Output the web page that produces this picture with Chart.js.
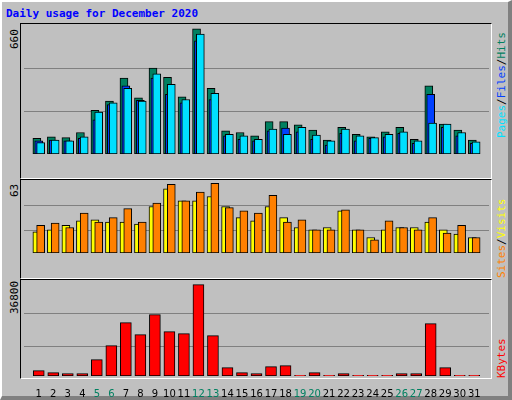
<!DOCTYPE html>
<html>
<head>
<meta charset="utf-8">
<script src="https://cdn.jsdelivr.net/npm/chart.js@4"></script>
<style>
  body { margin: 0; background: #fff; }
  #box { position: absolute; left: 0; top: 0; width: 506px; height: 394px; background: #c0c0c0;
         border-top: 2px solid #fff; border-left: 2px solid #fff; border-right: 4px solid #808080; border-bottom: 4px solid #808080; }
  .frame { position: absolute; left: 20px; width: 470px; border-top: 1px solid #000; border-left: 1px solid #000;
           border-right: 1px solid #fff; border-bottom: 1px solid #fff; }
  canvas { position: absolute; left: 24px; }
  .t { position: absolute; font: 11px "DejaVu Sans Mono", monospace; white-space: nowrap; }
  .rot { transform-origin: 0 0; transform: rotate(-90deg); }
</style>
</head>
<body>
<div id="box"></div>
<div class="frame" style="top:23px;height:154px"></div>
<div class="frame" style="top:179px;height:98px"></div>
<div class="frame" style="top:279px;height:98px"></div>
<div class="t" style="left:6px;top:7px;color:#0000ff;font-weight:bold">Daily usage for December 2020</div>
<div class="t rot" style="left:8px;top:49px">660</div>
<div class="t rot" style="left:8px;top:197px">63</div>
<div class="t rot" style="left:8px;top:314px">36800</div>
<div class="t rot" style="left:495px;top:138px"><span style="color:#00e0ff">Pages</span>/<span style="color:#0040ff">Files</span>/<span style="color:#008060">Hits</span></div>
<div class="t rot" style="left:495px;top:278px"><span style="color:#ff8000">Sites</span>/<span style="color:#ffff00">Visits</span></div>
<div class="t rot" style="left:495px;top:378px;color:#ff0000">KBytes</div>
<canvas id="c1" width="465" height="152" style="top:25px"></canvas>
<canvas id="c2" width="465" height="95" style="top:181px"></canvas>
<canvas id="c3" width="465" height="118" style="top:281px"></canvas>
<script>
const days = Array.from({length: 31}, (_, i) => i + 1);
const weekend = [5, 6, 12, 13, 19, 20, 26, 27];
const hits = [80,88,84,110,223,271,388,288,440,392,292,640,336,119,110,93,166,166,149,123,71,136,101,88,114,136,75,349,153,123,71];
const files = [67,71,67,80,175,253,349,275,388,305,262,579,279,93,75,67,119,132,114,75,45,106,67,80,88,106,54,305,136,93,54];
const pages = [58,71,67,88,214,262,336,271,410,357,279,614,310,101,93,75,127,101,136,97,67,127,93,84,101,114,67,158,153,110,62];
const visits = [19,21,25,29,30,28,28,26,42,58,47,47,51,42,32,29,42,32,23,21,23,38,21,14,21,23,23,28,21,17,14];
const sites = [25,27,23,36,28,32,40,28,45,62,47,55,63,41,38,36,52,28,30,21,21,39,21,12,29,23,21,32,18,25,14];
const kbytes = [2150,1340,940,940,6580,12220,21490,16650,24710,17860,17060,36800,16250,3360,1340,940,3760,4160,300,1340,300,940,300,300,300,940,940,21090,3360,300,300];

// first dataset is drawn on top, so list the front series first
function panel(id, datasets, max, grid, width, showX) {
  new Chart(document.getElementById(id), {
    type: "bar",
    data: { datasets: datasets.map(d => ({
      data: d.data.map((v, i) => ({ x: days[i] + d.shift, y: v })),
      backgroundColor: d.color, borderColor: "#000", borderWidth: 1,
      borderSkipped: false, barThickness: width, grouped: false
    })) },
    options: {
      responsive: false, animation: false, devicePixelRatio: 1,
      layout: { padding: 0 },
      plugins: { legend: { display: false }, tooltip: { enabled: false } },
      scales: {
        x: {
          type: "linear", display: showX, min: 0.5, max: 31.5,
          grid: { display: false }, border: { display: false },
          afterBuildTicks: s => { s.ticks = days.map(d => ({ value: d })); },
          ticks: {
            padding: 4, maxRotation: 0, autoSkip: false,
            font: { family: "DejaVu Sans", size: 10 },
            color: c => weekend.includes(c.tick.value) ? "#008060" : "#000"
          },
          afterFit: s => { s.height = 23; }
        },
        y: {
          min: 0, max: max,
          ticks: { display: false },
          border: { display: false },
          grid: { color: "#808080", drawTicks: false, lineWidth: 1 },
          afterBuildTicks: s => { s.ticks = grid.map(v => ({ value: v })); },
          afterFit: s => { s.width = 0; }
        }
      }
    }
  });
}

panel("c1", [
  { data: pages, color: "#00e0ff", shift: 0.13 },
  { data: files, color: "#0040ff", shift: 0 },
  { data: hits, color: "#008060", shift: -0.13 }
], 660, [220, 440], 8, false);

panel("c2", [
  { data: sites, color: "#ff8000", shift: 0.13 },
  { data: visits, color: "#ffff00", shift: -0.13 }
], 65, [65 * 0.31, 65 * 0.66], 8, false);

panel("c3", [
  { data: kbytes, color: "#ff0000", shift: 0 }
], 38250, [38250 * 0.31, 38250 * 0.66], 11, true);
</script>
</body>
</html>
